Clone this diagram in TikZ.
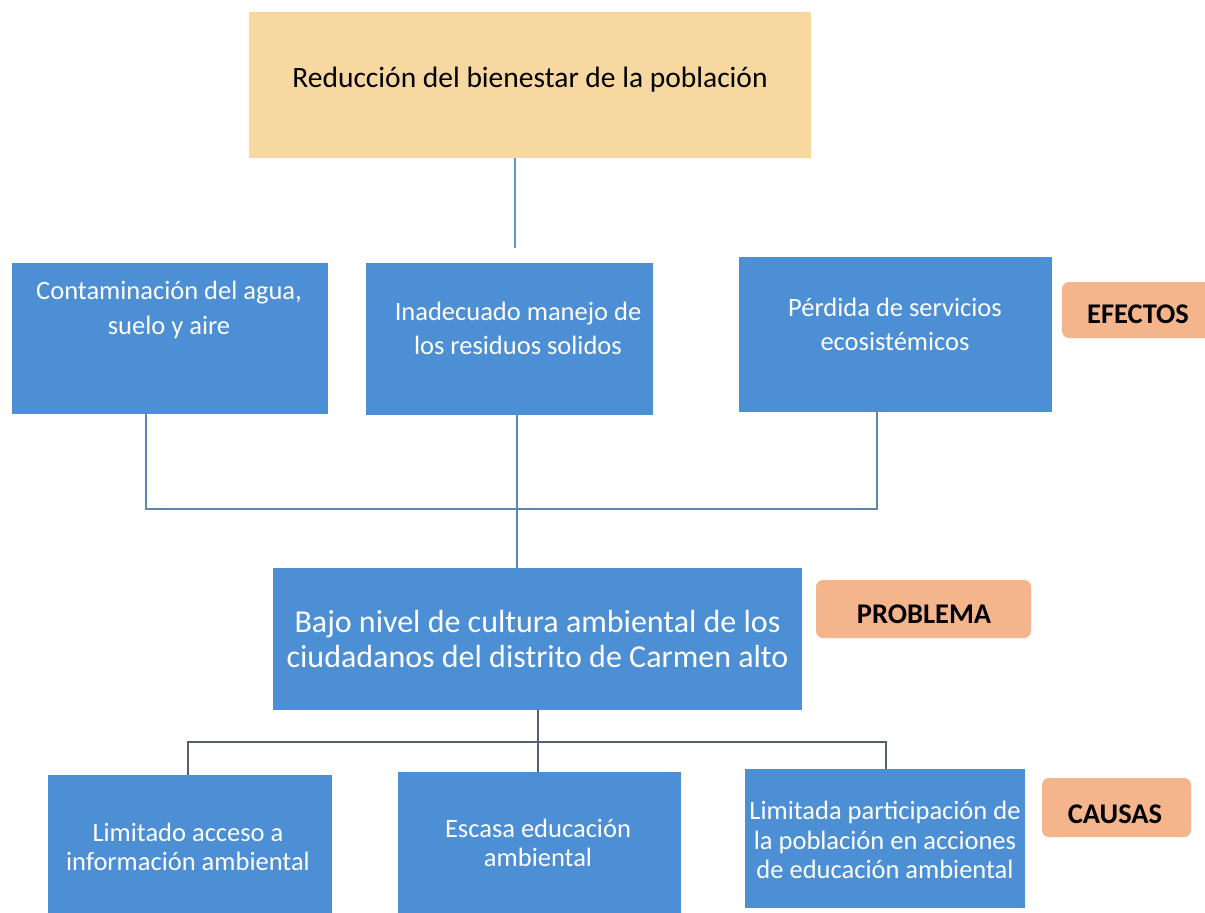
\documentclass[tikz,border=0pt]{standalone}
\usepackage{fontspec}
\setmainfont{Carlito}
\definecolor{boxblue}{HTML}{4D8FD4}
\definecolor{topfill}{HTML}{F6D8A0}
\definecolor{tagfill}{HTML}{F4B48C}
\definecolor{lineA}{HTML}{5B9BD5}
\definecolor{lineB}{HTML}{5A86B0}
\definecolor{lineC}{HTML}{55616E}
\tikzset{
  bluebox/.style={fill=boxblue, draw=none, inner sep=0pt},
  topbox/.style={fill=topfill, draw=none, inner sep=0pt},
  tagbox/.style={fill=tagfill, draw=none, rounded corners=7pt, inner sep=0pt},
  wtext/.style={text=white, align=center, inner sep=0pt},
  etext/.style={wtext, font=\fontsize{26.5}{34.5}\selectfont},
  ctext/.style={wtext, font=\fontsize{26.5}{29.5}\selectfont},
  ptext/.style={wtext, font=\fontsize{32}{34.5}\selectfont},
  tagtext/.style={text=black, inner sep=0pt, font=\bfseries\fontsize{28.5}{30}\selectfont},
  conn/.style={line width=2pt},
}
\begin{document}
\begin{tikzpicture}[x=1pt,y=-1pt]
\useasboundingbox (0,0) rectangle (1205,913);
\clip (0,0) rectangle (1205,913);
\fill[white] (0,0) rectangle (1205,913);

% top effect
\node[topbox, minimum width=562pt, minimum height=146pt] (top) at (530,85) {};
\node[text=black, inner sep=0pt, font=\fontsize{29.5}{32}\selectfont] (topt) at (530,80) {Reducción del bienestar de la población};

% effects
\node[bluebox, minimum width=316pt, minimum height=151pt] (e1) at (169.5,338.5) {};
\node[etext] (e1t) at (169,310) {Contaminación del agua,\\suelo y aire};
\node[bluebox, minimum width=287pt, minimum height=152pt] (e2) at (509,339) {};
\node[etext] (e2t) at (518,328.5) {Inadecuado manejo de\\los residuos solidos};
\node[bluebox, minimum width=313pt, minimum height=155pt] (e3) at (895.5,334.5) {};
\node[etext] (e3t) at (895,324.5) {Pérdida de servicios\\ecosistémicos};

\node[tagbox, minimum width=153pt, minimum height=56pt] (efx) at (1138.5,310) {};
\node[tagtext] (efxt) at (1138,314) {EFECTOS};

% problem
\node[bluebox, minimum width=529pt, minimum height=142pt] (p) at (537.5,639) {};
\node[ptext] (pt) at (537.5,639) {Bajo nivel de cultura ambiental de los\\ciudadanos del distrito de Carmen alto};
\node[tagbox, minimum width=215pt, minimum height=58pt] (prb) at (923.5,609) {};
\node[tagtext] (prbt) at (924,614) {PROBLEMA};

% causes
\node[bluebox, minimum width=284pt, minimum height=145pt] (c1) at (190,847.5) {};
\node[ctext] (c1t) at (188,847) {Limitado acceso a\\información ambiental};
\node[bluebox, minimum width=283pt, minimum height=148pt] (c2) at (539.5,846) {};
\node[ctext] (c2t) at (538,843) {Escasa educación\\ambiental};
\node[bluebox, minimum width=280pt, minimum height=139pt] (c3) at (885,838.5) {};
\node[ctext] (c3t) at (885,840) {Limitada participación de\\la población en acciones\\de educación ambiental};
\node[tagbox, minimum width=149pt, minimum height=59pt] (cau) at (1116.5,807.5) {};
\node[tagtext] (caut) at (1115,814) {CAUSAS};

% connectors
\coordinate (k0) at (515,248);
\draw[conn, lineA] (top.south -| k0) -- (k0);

\coordinate (h1) at (146,509);
\coordinate (h3) at (877,509);
\draw[conn, lineB] (e1.south -| h1) -- (h1) -- (h3) -- (e3.south -| h3);
\coordinate (v2) at (517,400);
\draw[conn, lineB] (e2.south -| v2) -- (p.north -| v2);

\coordinate (g1) at (188,742);
\coordinate (g3) at (886,742);
\draw[conn, lineC] (p.south) -- (p.south |- g1);
\draw[conn, lineC] (c1.north -| g1) -- (g1) -- (g3) -- (c3.north -| g3);
\draw[conn, lineC] (p.south |- g1) -- (c2.north -| p.south);
\end{tikzpicture}
\end{document}
